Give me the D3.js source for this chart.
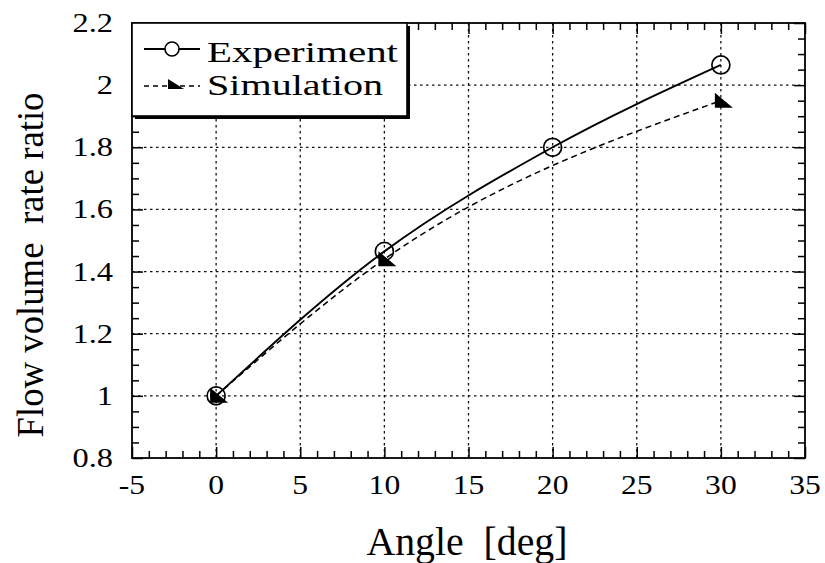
<!DOCTYPE html>
<html>
<head>
<meta charset="utf-8">
<script src="https://cdn.jsdelivr.net/npm/d3@7"></script>
<style>
  html, body { margin: 0; padding: 0; background: #fff; }
  svg { display: block; }
  text { font-family: "Liberation Serif", "Times New Roman", "DejaVu Serif", serif; fill: #000; }
</style>
</head>
<body>
<svg id="chart" width="825" height="563"></svg>
<script>
// Flow volume rate ratio versus angle
const expAngles = [0, 10, 20, 30];
const expValues = [1.0, 1.465, 1.80, 2.065];
const simAngles = [0, 10, 30];
const simValues = [1.0, 1.44, 1.95];

const xTicks = [-5, 0, 5, 10, 15, 20, 25, 30, 35];
const yTicks = [0.8, 1.0, 1.2, 1.4, 1.6, 1.8, 2.0, 2.2];
const xTickLabels = ["-5", "0", "5", "10", "15", "20", "25", "30", "35"];
const yTickLabels = ["0.8", "1", "1.2", "1.4", "1.6", "1.8", "2", "2.2"];
const seriesNames = ["Experiment", "Simulation"];
const xTitle = "Angle  [deg]";
const yTitle = "Flow volume  rate ratio";

const svg = d3.select("#chart");
const L = 132, R = 805, T = 23, B = 458;

const x = d3.scaleLinear().domain([-5, 35]).range([L, R]);
const y = d3.scaleLinear().domain([0.8, 2.2]).range([B, T]);

// grid
const grid = svg.append("g")
  .attr("stroke", "#111").attr("stroke-width", 1.3)
  .attr("stroke-dasharray", "2.5,3.5");
grid.selectAll("line.vx").data(xTicks.slice(1, -1)).join("line")
  .attr("x1", d => x(d)).attr("x2", d => x(d))
  .attr("y1", T).attr("y2", B);
grid.selectAll("line.hy").data(yTicks.slice(1, -1)).join("line")
  .attr("x1", L).attr("x2", R)
  .attr("y1", d => y(d)).attr("y2", d => y(d));

// inward ticks on all four sides
const xMinor = d3.range(-5, 35.01, 1).filter(v => v % 5 !== 0);
const yMinor = d3.range(0, 29).map(i => +(0.8 + i * 0.05).toFixed(2))
  .filter(v => Math.round(v * 100) % 20 !== 0);

function tickAxis(axisFn, scale, values, size, transform) {
  const g = svg.append("g").attr("transform", transform)
    .call(axisFn(scale).tickValues(values).tickSize(size).tickFormat(""));
  g.select(".domain").remove();
  g.selectAll(".tick line").attr("stroke", "#000").attr("stroke-width", 1.5);
  return g;
}
tickAxis(d3.axisBottom, x, xTicks, -11, `translate(0,${B})`);
tickAxis(d3.axisBottom, x, xMinor, -7, `translate(0,${B})`);
tickAxis(d3.axisTop, x, xTicks, -11, `translate(0,${T})`);
tickAxis(d3.axisTop, x, xMinor, -7, `translate(0,${T})`);
tickAxis(d3.axisLeft, y, yTicks, -11, `translate(${L},0)`);
tickAxis(d3.axisLeft, y, yMinor, -7, `translate(${L},0)`);
tickAxis(d3.axisRight, y, yTicks, -11, `translate(${R},0)`);
tickAxis(d3.axisRight, y, yMinor, -7, `translate(${R},0)`);

// frame
svg.append("rect")
  .attr("x", L).attr("y", T).attr("width", R - L).attr("height", B - T)
  .attr("fill", "none").attr("stroke", "#000").attr("stroke-width", 1.8);

// tick labels
svg.append("g").selectAll("text").data(xTicks).join("text")
  .attr("transform", d => `translate(${x(d)},${B + 36}) scale(1.17,1)`)
  .attr("text-anchor", "middle")
  .attr("font-size", 27)
  .text((d, i) => xTickLabels[i]);
svg.append("g").selectAll("text").data(yTicks).join("text")
  .attr("transform", d => `translate(${L - 19},${y(d) + 9}) scale(1.2,1)`)
  .attr("text-anchor", "end")
  .attr("font-size", 27)
  .text((d, i) => yTickLabels[i]);

// axis titles
svg.append("text")
  .attr("x", 467).attr("y", 555)
  .attr("text-anchor", "middle")
  .attr("font-size", 41)
  .attr("textLength", 201).attr("lengthAdjust", "spacingAndGlyphs")
  .style("white-space", "pre")
  .text(xTitle);
svg.append("text")
  .attr("transform", "translate(43,265) rotate(-90)")
  .attr("text-anchor", "middle")
  .attr("font-size", 38)
  .attr("textLength", 345).attr("lengthAdjust", "spacingAndGlyphs")
  .style("white-space", "pre")
  .text(yTitle);

// series curves
const line = d3.line().curve(d3.curveMonotoneX)
  .x(d => x(d[0])).y(d => y(d[1]));
const expPts = expAngles.map((a, i) => [a, expValues[i]]);
const simPts = simAngles.map((a, i) => [a, simValues[i]]);

svg.append("path").datum(simPts)
  .attr("d", line).attr("fill", "none")
  .attr("stroke", "#000").attr("stroke-width", 1.5)
  .attr("stroke-dasharray", "6,4");
svg.append("path").datum(expPts)
  .attr("d", line).attr("fill", "none")
  .attr("stroke", "#000").attr("stroke-width", 1.9);

// markers
const triPath = "M-6,-8L-6,7L12,7Z";
svg.append("g").selectAll("path").data(simPts).join("path")
  .attr("transform", d => `translate(${x(d[0])},${y(d[1])})`)
  .attr("d", triPath).attr("fill", "#000");
svg.append("g").selectAll("circle").data(expPts).join("circle")
  .attr("cx", d => x(d[0])).attr("cy", d => y(d[1]))
  .attr("r", 9).attr("fill", "none")
  .attr("stroke", "#000").attr("stroke-width", 1.7);

// legend with drop shadow
const lg = svg.append("g");
lg.append("rect").attr("x", L + 3).attr("y", T + 3)
  .attr("width", 275).attr("height", 93).attr("fill", "#000");
lg.append("rect").attr("x", L).attr("y", T)
  .attr("width", 275).attr("height", 93)
  .attr("fill", "#fff").attr("stroke", "#000").attr("stroke-width", 1.6);

lg.append("line").attr("x1", 144).attr("x2", 200).attr("y1", 49).attr("y2", 49)
  .attr("stroke", "#000").attr("stroke-width", 1.9);
lg.append("circle").attr("cx", 172).attr("cy", 49).attr("r", 7)
  .attr("fill", "#fff").attr("stroke", "#000").attr("stroke-width", 1.6);
lg.append("text").attr("x", 207).attr("y", 62)
  .attr("font-size", 29)
  .attr("textLength", 191).attr("lengthAdjust", "spacingAndGlyphs")
  .text(seriesNames[0]);

lg.append("line").attr("x1", 144).attr("x2", 200).attr("y1", 86).attr("y2", 86)
  .attr("stroke", "#000").attr("stroke-width", 1.5)
  .attr("stroke-dasharray", "5,4");
lg.append("path").attr("transform", "translate(173,85)")
  .attr("d", "M-5,-6L-5,4L11,4Z").attr("fill", "#000");
lg.append("text").attr("x", 207).attr("y", 94.5)
  .attr("font-size", 29)
  .attr("textLength", 176).attr("lengthAdjust", "spacingAndGlyphs")
  .text(seriesNames[1]);
</script>
</body>
</html>
